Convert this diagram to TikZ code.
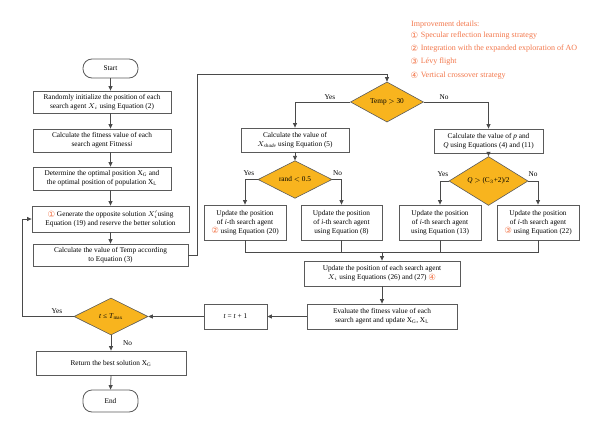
\documentclass[tikz,border=0pt]{standalone}
\usepackage{fontspec}
\setmainfont{Liberation Serif}
\newfontfamily\symf{DejaVu Sans}
\usetikzlibrary{shapes.geometric,arrows.meta}
\definecolor{boxgray}{HTML}{5A5A5A}
\definecolor{linegray}{HTML}{4A4A4A}
\definecolor{dfill}{HTML}{F8B41E}
\definecolor{legend}{HTML}{F2764A}
\newcommand{\cn}[1]{\raisebox{-0.6pt}{\color{legend}\symf\fontsize{8.5}{8.5}\selectfont #1}}
\begin{document}
\begin{tikzpicture}[x=1pt,y=-1pt,
  txt/.style={font=\fontsize{7.3}{9}\selectfont, align=center},
  box/.style={txt, draw=boxgray, line width=0.8pt, fill=white, inner sep=1pt},
  term/.style={box, rounded corners=9pt},
  dia/.style={txt, diamond, draw=boxgray, line width=0.6pt, fill=dfill, inner sep=0pt},
  lab/.style={txt, inner sep=1pt},
  conn/.style={draw=linegray, line width=0.8pt},
  arr/.style={conn, -{Triangle[length=4.5pt,width=4pt]}},
  leg/.style={font=\fontsize{8}{9}\selectfont, text=legend, anchor=west, inner sep=0pt}
]
\useasboundingbox (0,0) rectangle (600,434);

% left column
\node[term, minimum width=55pt, minimum height=19pt] (start) at (110.5,68.5) {Start};
\node[box, minimum width=138pt, minimum height=22pt] (b1) at (102,102) {Randomly initialize the position of each\\search agent $X_i$ using Equation (2)};
\node[box, minimum width=138pt, minimum height=23pt] (b2) at (102,140.5) {Calculate the fitness value of each\\search agent Fitness\textit{i}};
\node[box, minimum width=138pt, minimum height=23pt] (b3) at (102,178.5) {Determine the optimal position X$_\mathrm{G}$ and\\the optimal position of population X$_\mathrm{L}$};
\node[box, minimum width=157pt, minimum height=26pt] (b4) at (110.5,219) {\cn{①} Generate the opposite solution $X_i'$using\\Equation (19) and reserve the better solution};
\node[box, minimum width=155pt, minimum height=22pt] (b5) at (110.5,255) {Calculate the value of Temp according\\to Equation (3)};
\node[dia, minimum width=74pt, minimum height=37pt] (td) at (111,316.5) {\textit{t} ≤ \textit{T}$_{\max}$};
\node[box, minimum width=150pt, minimum height=24pt] (ret) at (111,363) {Return the best solution X$_\mathrm{G}$};
\node[term, minimum width=55pt, minimum height=22pt] (end) at (110.5,401) {End};

% right part
\node[dia, minimum width=73pt, minimum height=38pt] (temp) at (387,102) {Temp $>$ 30};
\node[box, minimum width=108pt, minimum height=24pt] (shade) at (295,140) {Calculate the value of\\$X_{\mathit{shade}}$ using Equation (5)};
\node[dia, minimum width=74pt, minimum height=29pt] (rand) at (295,179.5) {rand $<$ 0.5};
\node[box, minimum width=82pt, minimum height=35pt] (u20) at (245,222.5) {Update the position\\of \textit{i}-th search agent\\\cn{②} using Equation (20)};
\node[box, minimum width=81pt, minimum height=35pt] (u8) at (341.5,222.5) {Update the position\\of \textit{i}-th search agent\\using Equation (8)};
\node[box, minimum width=109pt, minimum height=24pt] (pq) at (488.5,141) {Calculate the value of \textit{p} and\\\textit{Q} using Equations (4) and (11)};
\node[dia, minimum width=79pt, minimum height=32pt] (qd) at (488.5,181) {\textit{Q} $>$ (C$_3$+2)/2};
\node[box, minimum width=82pt, minimum height=35pt] (u13) at (440,222.5) {Update the position\\of \textit{i}-th search agent\\using Equation (13)};
\node[box, minimum width=82pt, minimum height=35pt] (u22) at (538,222.5) {Update the position\\of \textit{i}-th search agent\\\cn{③} using Equation (22)};
\node[box, minimum width=156pt, minimum height=25pt] (u26) at (382,273.5) {Update the position of each search agent\\$X_i$ using Equations (26) and (27) \cn{④}};
\node[box, minimum width=150pt, minimum height=25pt] (ev) at (382,316.5) {Evaluate the fitness value of each\\search agent and update X$_\mathrm{G}$, X$_\mathrm{L}$};
\node[box, minimum width=63pt, minimum height=25pt] (tt) at (235.5,316.5) {\textit{t} = \textit{t} + 1};

% legend
\node[leg] (lg0) at (411,25) {Improvement details:};
\node[leg] (lg1) at (410.5,35.5) {\cn{①}\hspace{2.5pt}Specular reflection learning strategy};
\node[leg] (lg2) at (410.5,48.5) {\cn{②}\hspace{2.5pt}Integration with the expanded exploration of AO};
\node[leg] (lg3) at (410.5,62) {\cn{③}\hspace{2.5pt}Lévy flight};
\node[leg] (lg4) at (410.5,75.5) {\cn{④}\hspace{2.5pt}Vertical crossover strategy};

% column arrows
\draw[arr] (start.south) -- (start.south |- b1.north);
\draw[arr] (start.south |- b1.south) -- (start.south |- b2.north);
\draw[arr] (start.south |- b2.south) -- (start.south |- b3.north);
\draw[arr] (start.south |- b3.south) -- (start.south |- b4.north);
\draw[arr] (start.south |- b4.south) -- (start.south |- b5.north);

% b5 to temp
\coordinate (c1) at (197,255);
\coordinate (c2) at (197,74);
\draw[arr] (b5.east |- c1) -- (c1) -- (c2) -- (c2 -| temp.north) -- (temp.north);

% temp branches
\draw[arr] (temp.west) -- (temp.west -| shade.north) -- (shade.north);
\node[lab] (ly1) at (330,97) {Yes};
\draw[arr] (temp.east) -- (temp.east -| pq.north) -- (pq.north);
\node[lab] (ln1) at (444,97) {No};

\draw[arr] (shade.south) -- (rand.north);
\draw[arr] (rand.west) -- (rand.west -| u20.north) -- (u20.north);
\node[lab] (ly2) at (249,173) {Yes};
\draw[arr] (rand.east) -- (rand.east -| u8.north) -- (u8.north);
\node[lab] (ln2) at (337.5,173) {No};

\draw[arr] (pq.south) -- (qd.north);
\draw[arr] (qd.west) -- (qd.west -| u13.north) -- (u13.north);
\node[lab] (ly3) at (443,174) {Yes};
\draw[arr] (qd.east) -- (qd.east -| u22.north) -- (u22.north);
\node[lab] (ln3) at (533,174) {No};

% merge
\coordinate (m) at (382,252);
\draw[conn] (u20.south) -- (u20.south |- m) -- (u22.south |- m) -- (u22.south);
\draw[conn] (u8.south) -- (u8.south |- m);
\draw[conn] (u13.south) -- (u13.south |- m);
\draw[arr] (m) -- (u26.north);
\draw[arr] (u26.south) -- (ev.north);
\draw[arr] (ev.west) -- (tt.east);
\draw[arr] (tt.west) -- (td.east);

% loop back
\coordinate (c3) at (22,316.5);
\draw[arr] (td.west) -- (c3) -- (c3 |- b4.west) -- (b4.west);
\node[lab] (ly4) at (57,311) {Yes};
\draw[arr] (td.south) -- (ret.north);
\node[lab] (ln4) at (127.5,343) {No};
\draw[arr] (ret.south) -- (end.north);
\end{tikzpicture}
\end{document}
